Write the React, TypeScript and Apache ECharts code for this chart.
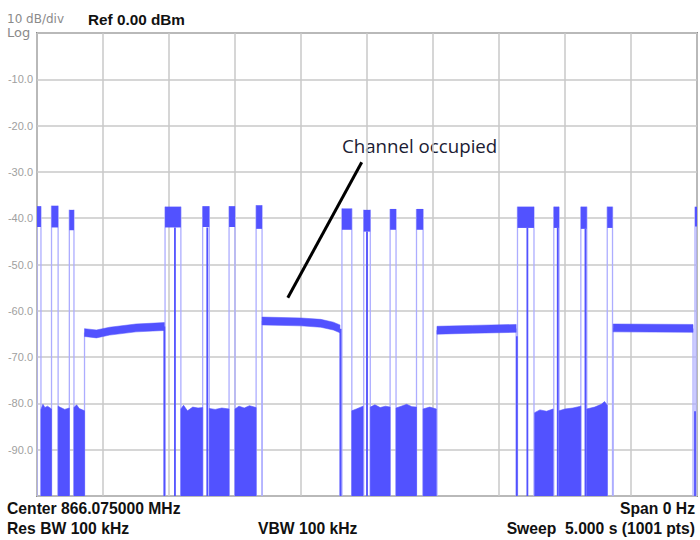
import React, { useEffect, useRef } from "react";
import * as echarts from "echarts";

// Sweep: 1001 points across 5.000 s; x is point index, y is dBm
const yTickLabels = ["-10.0", "-20.0", "-30.0", "-40.0", "-50.0", "-60.0", "-70.0", "-80.0", "-90.0"];

// bursts: [startIdx, endIdx, topLevel, bottomLevel]
const burstSegments: [number, number, number, number][] = [
  [0, 6, -37.4, -41.9],
  [22, 32, -37.3, -42.0],
  [49, 56, -38.2, -42.6],
  [194, 218, -37.5, -42.0],
  [251, 261, -37.4, -41.9],
  [291, 300, -37.4, -41.9],
  [332, 341, -37.2, -42.3],
  [462, 477, -37.9, -42.5],
  [495, 505, -38.2, -42.9],
  [535, 544, -38.0, -42.5],
  [575, 585, -38.0, -42.5],
  [728, 753, -37.5, -42.1],
  [783, 791, -37.5, -42.1],
  [824, 833, -37.5, -42.3],
  [864, 872, -37.5, -42.1],
  [997, 1000, -37.5, -41.8],
];

// noise floor blocks: top outline vertices [idx, level], filled down to the floor
const noise1: [number, number][] = [[6, -81.3], [9, -80.2], [12, -80.9], [16, -80.6], [22, -81.2]];
const noise2: [number, number][] = [[32, -80.6], [36, -80.9], [42, -81.3], [49, -81.0]];
const noise3: [number, number][] = [[56, -80.9], [60, -80.3], [64, -81.1], [72, -81.6]];
const noise4: [number, number][] = [[218, -81.2], [222, -80.4], [228, -81.6], [236, -80.8], [244, -81.0], [251, -80.9]];
const noise5: [number, number][] = [[261, -81.1], [270, -81.3], [280, -81.0], [291, -81.2]];
const noise6: [number, number][] = [[300, -81.2], [306, -80.6], [314, -81.0], [322, -80.5], [332, -80.9]];
const noise7: [number, number][] = [[477, -81.6], [484, -81.2], [494, -80.6]];
const noise8: [number, number][] = [[505, -80.8], [512, -80.3], [520, -80.9], [528, -80.6], [535, -80.8]];
const noise9: [number, number][] = [[544, -81.0], [552, -80.6], [560, -80.2], [568, -80.7], [575, -80.8]];
const noise10: [number, number][] = [[585, -81.2], [595, -80.8], [605, -81.2]];
const noise11: [number, number][] = [[754, -82.0], [762, -81.4], [772, -81.7], [782, -81.2]];
const noise12: [number, number][] = [[791, -81.6], [800, -81.2], [812, -81.0], [824, -80.6]];
const noise13: [number, number][] = [[833, -81.2], [845, -80.8], [855, -80.2], [860, -79.6], [864, -80.4]];
const noiseSegments = [noise1, noise2, noise3, noise4, noise5, noise6, noise7, noise8, noise9, noise10, noise11, noise12, noise13];

// occupied-channel plateaus: vertices [idx, level]
const plateau1: [number, number][] = [[72, -64.7], [90, -65.0], [110, -64.4], [150, -63.7], [193, -63.4]];
const plateau2: [number, number][] = [[341, -62.2], [400, -62.4], [430, -62.7], [449, -63.3], [459, -63.9]];
const plateau3: [number, number][] = [[606, -64.2], [660, -64.0], [726, -63.8]];
const plateau4: [number, number][] = [[873, -63.7], [994, -63.8]];
const plateauSegments = [plateau1, plateau2, plateau3, plateau4];

// single-sample drops: [idx, fromLevel]
const dropoutLines: [number, number][] = [
  [193, -63.4], [209, -42.0], [258, -42.0], [460, -63.9], [500, -42.9],
  [727, -65.5], [743, -42.1], [789, -42.1], [831, -42.3], [997, -81.7],
];

// annotation arrow: [idx, level] pairs
const arrowStart: [number, number] = [492, -27.9];
const arrowEnd: [number, number] = [380, -57.2];

const FLOOR = -100;
const PLATEAU_HALF = 0.85;
const BLUE = "#5252ff";
const LIGHT = "#adadff";

export default function App() {
  const ref = useRef<HTMLDivElement>(null);
  useEffect(() => {
    const chart = echarts.init(ref.current!, null, { renderer: "svg" });

    const edgeLines: number[][] = [];
    burstSegments.forEach(([s, e, t]) => {
      edgeLines.push([s, t, FLOOR]);
      edgeLines.push([e, t, FLOOR]);
    });
    plateauSegments.forEach((p) => {
      edgeLines.push([p[0][0], p[0][1], FLOOR]);
      const l = p[p.length - 1];
      edgeLines.push([l[0], l[1], FLOOR]);
    });

    const lineItem = (api: any, x: number, y1: number, y2: number, color: string, w: number) => {
      const a = api.coord([x, y1]);
      const b = api.coord([x, y2]);
      return { type: "line", shape: { x1: a[0], y1: a[1], x2: b[0], y2: b[1] }, style: { stroke: color, lineWidth: w } };
    };

    const option: any = {
      animation: false,
      backgroundColor: "#ffffff",
      grid: {
        left: 37, right: 3, top: 33, bottom: 44,
        show: true, borderColor: "#8c8c8c", borderWidth: 2, backgroundColor: "#ffffff",
      },
      xAxis: {
        type: "value", min: 0, max: 1000, interval: 100,
        axisLabel: { show: false }, axisTick: { show: false }, axisLine: { show: false },
        splitLine: { show: true, lineStyle: { color: "#c8c8c8", width: 1.5 } },
      },
      yAxis: {
        type: "value", min: -100, max: 0, interval: 10,
        axisLine: { show: false }, axisTick: { show: false },
        axisLabel: {
          formatter: (v: number) => {
            const i = Math.round(-v / 10) - 1;
            return i >= 0 && i < yTickLabels.length ? yTickLabels[i] : "";
          },
          color: "#a0a0a0", fontSize: 11, fontFamily: "Liberation Sans", margin: 4,
        },
        splitLine: { show: true, lineStyle: { color: "#c8c8c8", width: 1.5 } },
      },
      series: [
        {
          type: "custom", name: "edges", clip: true, silent: true,
          data: edgeLines,
          renderItem: (params: any, api: any) =>
            lineItem(api, api.value(0), api.value(1), api.value(2), LIGHT, 1.3),
        },
        {
          type: "custom", name: "noise", clip: true, silent: true,
          data: noiseSegments.map((p, i) => [i, p[0][0], p[0][1]]),
          renderItem: (params: any, api: any) => {
            const p = noiseSegments[params.dataIndex];
            const top = p.map(([x, y]) => api.coord([x, y]));
            const last = p[p.length - 1];
            const pts = top.concat([api.coord([last[0], FLOOR]), api.coord([p[0][0], FLOOR])]);
            return { type: "polygon", shape: { points: pts }, style: { fill: BLUE, stroke: BLUE, lineWidth: 0.6 } };
          },
        },
        {
          type: "custom", name: "plateaus", clip: true, silent: true,
          data: plateauSegments.map((p, i) => [i, p[0][0], p[0][1]]),
          renderItem: (params: any, api: any) => {
            const p = plateauSegments[params.dataIndex];
            const top = p.map(([x, y]) => api.coord([x, y + PLATEAU_HALF]));
            const bot = p.slice().reverse().map(([x, y]) => api.coord([x, y - PLATEAU_HALF]));
            return { type: "polygon", shape: { points: top.concat(bot) }, style: { fill: BLUE, stroke: BLUE, lineWidth: 0.5 } };
          },
        },
        {
          type: "custom", name: "bursts", clip: true, silent: true,
          data: burstSegments,
          renderItem: (params: any, api: any) => {
            const a = api.coord([api.value(0), api.value(2)]);
            const b = api.coord([api.value(1), api.value(3)]);
            return { type: "rect", shape: { x: a[0], y: a[1], width: b[0] - a[0], height: b[1] - a[1] }, style: { fill: BLUE } };
          },
        },
        {
          type: "custom", name: "dropouts", clip: true, silent: true,
          data: dropoutLines,
          renderItem: (params: any, api: any) =>
            lineItem(api, api.value(0), api.value(1), FLOOR, BLUE, 1.8),
        },
        {
          type: "line", name: "arrow", data: [], silent: true,
          markLine: {
            silent: true, symbol: ["none", "none"], label: { show: false },
            lineStyle: { color: "#000000", width: 3, type: "solid" },
            data: [[{ coord: arrowStart }, { coord: arrowEnd }]],
          },
        },
      ],
      graphic: [
        { type: "text", x: 7, y: 19, style: { text: "10 dB/div", fill: "#8a8a8a", font: "12px 'DejaVu Sans'", verticalAlign: "middle" } },
        { type: "text", x: 7, y: 32, style: { text: "Log", fill: "#8a8a8a", font: "13px 'DejaVu Sans'", verticalAlign: "middle" } },
        { type: "text", x: 88, y: 19, style: { text: "Ref 0.00 dBm", fill: "#111111", font: "bold 15.3px 'Liberation Sans'", verticalAlign: "middle" } },
        { type: "text", x: 342, y: 145, style: { text: "Channel occupied", fill: "#1b1b33", font: "18.7px 'Open Sans'", verticalAlign: "middle" } },
        { type: "text", x: 7, y: 508, style: { text: "Center 866.075000 MHz", fill: "#111111", font: "bold 15.7px 'Liberation Sans'", verticalAlign: "middle" } },
        { type: "text", x: 695, y: 508, style: { text: "Span 0 Hz", fill: "#111111", font: "bold 15.7px 'Liberation Sans'", verticalAlign: "middle", align: "right" } },
        { type: "text", x: 7, y: 528, style: { text: "Res BW 100 kHz", fill: "#111111", font: "bold 15.7px 'Liberation Sans'", verticalAlign: "middle" } },
        { type: "text", x: 258, y: 528, style: { text: "VBW 100 kHz", fill: "#111111", font: "bold 15.7px 'Liberation Sans'", verticalAlign: "middle" } },
        { type: "text", x: 695, y: 528, style: { text: "Sweep  5.000 s (1001 pts)", fill: "#111111", font: "bold 15.7px 'Liberation Sans'", verticalAlign: "middle", align: "right" } },
      ],
    };
    chart.setOption(option);
    return () => chart.dispose();
  }, []);

  return (
    <div
      ref={ref}
      style={{ position: "fixed", left: 0, top: 0, width: 700, height: 540, background: "#ffffff" }}
    />
  );
}
